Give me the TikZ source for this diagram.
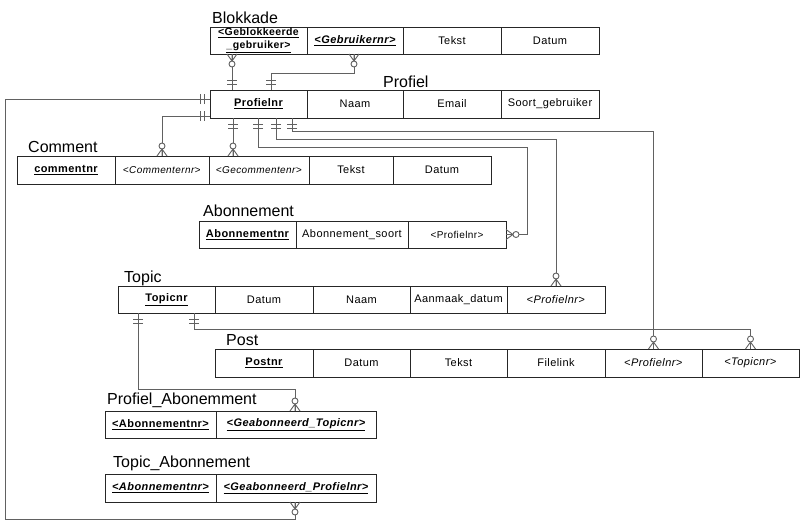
\documentclass[tikz,border=0pt]{standalone}
\usepackage{fontspec}
\setmainfont{Liberation Sans}
\newfontfamily\cellfont[LetterSpace=4]{Liberation Sans}
\newcommand{\pkey}[1]{\textbf{\underline{#1}}}
\newcommand{\fkey}[1]{\textbf{\textit{\underline{#1}}}}
\begin{document}
\begin{tikzpicture}[x=1pt,y=-1pt,
  cell/.style={draw=black!85, line width=0.8pt, anchor=north west, minimum height=27pt,
    inner sep=0pt, outer sep=0pt, font=\cellfont\fontsize{11}{13}\selectfont, align=center},
  smallcell/.style={cell, font=\cellfont\fontsize{10}{12}\selectfont},
  ttl/.style={anchor=base west, inner sep=0pt, font=\fontsize{16}{19}\selectfont},
  conn/.style={draw=black!62, line width=0.9pt},
  onebar/.pic={\draw[conn] (6,-5)--(6,5) (10,-5)--(10,5);},
  zmany/.pic={\draw[conn] (0,-5)--(7,0)--(0,5) (0,0)--(7,0); \draw[conn,fill=white] (10,0) circle (3pt);}
]
\useasboundingbox (0,0) rectangle (808,531);

% titles
\node[ttl] (tb) at (212,23) {Blokkade};
\node[ttl] (tp) at (383,87) {Profiel};
\node[ttl] (tc) at (28,152) {Comment};
\node[ttl] (tab) at (203,216) {Abonnement};
\node[ttl] (tt) at (124,282) {Topic};
\node[ttl] (tpo) at (226,345) {Post};
\node[ttl] (tpa) at (107,404) {Profiel\_Abonemment};
\node[ttl] (tta) at (113,467) {Topic\_Abonnement};

% Blokkade
\node[cell, minimum width=97pt, font=\cellfont\fontsize{10.5}{12.5}\selectfont] (b1) at (210,27) {\pkey{<Geblokkeerde}\\\pkey{\_gebruiker>}};
\node[cell, minimum width=96pt] (b2) at (307,27) {\fkey{<Gebruikernr>}};
\node[cell, minimum width=98pt] (b3) at (403,27) {Tekst};
\node[cell, minimum width=98pt] (b4) at (501,27) {Datum};

% Profiel
\node[cell, minimum width=97pt, minimum height=28pt] (p1) at (210,90) {\pkey{Profielnr}};
\node[cell, minimum width=96pt, minimum height=28pt] (p2) at (307,90) {Naam};
\node[cell, minimum width=98pt, minimum height=28pt] (p3) at (403,90) {Email};
\node[cell, minimum width=98pt, minimum height=28pt] (p4) at (501,90) {Soort\_gebruiker};

% Comment
\node[cell, minimum width=98pt, minimum height=28pt] (c1) at (17,156) {\pkey{commentnr}};
\node[smallcell, minimum width=94pt, minimum height=28pt] (c2) at (115,156) {\textit{<Commenternr>}};
\node[smallcell, minimum width=100pt, minimum height=28pt] (c3) at (209,156) {\textit{<Gecommentenr>}};
\node[cell, minimum width=84pt, minimum height=28pt] (c4) at (309,156) {Tekst};
\node[cell, minimum width=98pt, minimum height=28pt] (c5) at (393,156) {Datum};

% Abonnement
\node[cell, minimum width=97pt] (a1) at (199,221) {\pkey{Abonnementnr}};
\node[cell, minimum width=112pt] (a2) at (296,221) {Abonnement\_soort};
\node[smallcell, minimum width=98pt] (a3) at (408,221) {<Profielnr>};

% Topic
\node[cell, minimum width=97pt] (t1) at (118,286) {\pkey{Topicnr}};
\node[cell, minimum width=98pt] (t2) at (215,286) {Datum};
\node[cell, minimum width=97pt] (t3) at (313,286) {Naam};
\node[cell, minimum width=97pt] (t4) at (410,286) {Aanmaak\_datum};
\node[cell, minimum width=98pt] (t5) at (507,286) {\textit{<Profielnr>}};

% Post
\node[cell, minimum width=98pt, minimum height=28pt] (po1) at (215,349) {\pkey{Postnr}};
\node[cell, minimum width=97pt, minimum height=28pt] (po2) at (313,349) {Datum};
\node[cell, minimum width=97pt, minimum height=28pt] (po3) at (410,349) {Tekst};
\node[cell, minimum width=98pt, minimum height=28pt] (po4) at (507,349) {Filelink};
\node[cell, minimum width=97pt, minimum height=28pt] (po5) at (605,349) {\textit{<Profielnr>}};
\node[cell, minimum width=97pt, minimum height=28pt] (po6) at (702,349) {\textit{<Topicnr>}};

% Profiel_Abonemment
\node[cell, minimum width=111pt] (pa1) at (105,411) {\pkey{<Abonnementnr>}};
\node[cell, minimum width=160pt] (pa2) at (216,411) {\fkey{<Geabonneerd\_Topicnr>}};

% Topic_Abonnement
\node[cell, minimum width=111pt, minimum height=28pt] (ta1) at (105,474) {\fkey{<Abonnementnr>}};
\node[cell, minimum width=160pt, minimum height=28pt] (ta2) at (216,474) {\fkey{<Geabonneerd\_Profielnr>}};

% connector end points
\coordinate (s1) at ([xshift=22pt]b1.south west);
\coordinate (e1) at ([xshift=22pt]p1.north west);
\coordinate (s2) at ([xshift=-1pt]b2.south);
\coordinate (e2) at ([xshift=61pt]p1.north west);
\coordinate (s3) at ([yshift=5pt]p1.west);
\coordinate (k3) at (5,519);
\coordinate (e3) at ([xshift=-1pt]ta2.south);
\coordinate (s4) at ([yshift=-12pt]p1.west);
\coordinate (s5) at ([xshift=23pt]p1.south west);
\coordinate (s6) at ([xshift=48pt]p1.south west);
\coordinate (s7) at ([xshift=66pt]p1.south west);
\coordinate (s8) at ([xshift=82pt]p1.south west);
\coordinate (s9) at ([xshift=20pt]t1.south west);
\coordinate (e9) at ([xshift=-1pt]pa2.north);
\coordinate (s10) at ([xshift=76pt]t1.south west);

% connectors
\draw[conn] (s1) -- (e1);
\draw[conn] (s2) -- ++(0,19) -| (e2);
\draw[conn] (s3) -| (k3) -| (e3);
\draw[conn] (s4) -| (c2.north);
\draw[conn] (s5) -- (s5 |- c3.north);
\draw[conn] (s6) |- ([xshift=21pt,yshift=87.5pt]a3.east) |- (a3.east);
\draw[conn] (s7) |- ([yshift=147pt]t5.north) -- (t5.north);
\draw[conn] (s8) |- ([yshift=218pt]po5.north) -- (po5.north);
\draw[conn] (s9) |- ([yshift=22pt]e9) -- (e9);
\draw[conn] (s10) |- ([yshift=20pt]po6.north) -- (po6.north);

% cardinality marks
\pic[rotate=-90] at (s1) {zmany};
\pic[rotate=90] at (e1) {onebar};
\pic[rotate=-90] at (s2) {zmany};
\pic[rotate=90] at (e2) {onebar};
\pic[rotate=180] at (s3) {onebar};
\pic[rotate=-90] at (e3) {zmany};
\pic[rotate=180] at (s4) {onebar};
\pic[rotate=90] at (c2.north) {zmany};
\pic[rotate=-90] at (s5) {onebar};
\pic[rotate=90] at (s5 |- c3.north) {zmany};
\pic[rotate=-90] at (s6) {onebar};
\pic at (a3.east) {zmany};
\pic[rotate=-90] at (s7) {onebar};
\pic[rotate=90] at (t5.north) {zmany};
\pic[rotate=-90] at (s8) {onebar};
\pic[rotate=90] at (po5.north) {zmany};
\pic[rotate=-90] at (s9) {onebar};
\pic[rotate=90] at (e9) {zmany};
\pic[rotate=-90] at (s10) {onebar};
\pic[rotate=90] at (po6.north) {zmany};
\end{tikzpicture}
\end{document}
